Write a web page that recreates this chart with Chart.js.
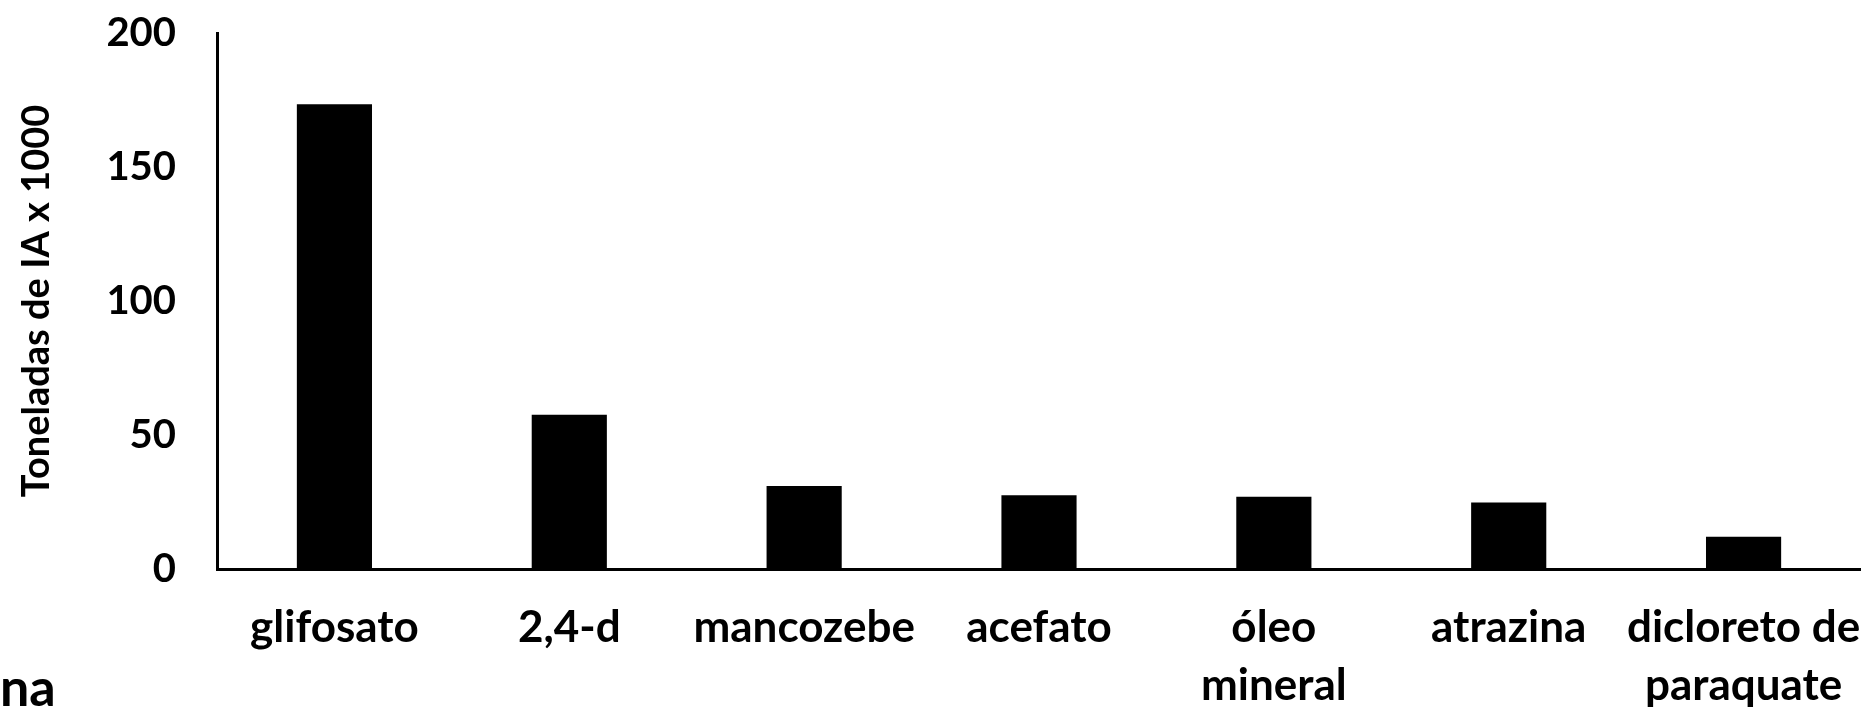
<!DOCTYPE html>
<html lang="pt">
<head>
    <meta charset="UTF-8">
    <title>Toneladas de IA x 1000</title>
    <script src="https://cdn.jsdelivr.net/npm/chart.js"></script>
    <style>
        html, body { margin: 0; padding: 0; background: #fff; }
        #wrap { position: relative; width: 1861px; height: 708px; overflow: hidden; }
        #note { position: absolute; left: 0; top: 655px; font: bold 52px/1.2 Lato, sans-serif; color: #000; }
    </style>
</head>
<body>
    <div id="wrap">
        <canvas id="chart" width="1861" height="708"></canvas>
        <div id="note">na</div>
    </div>

    <script>
        // values
        const categories = ['glifosato', '2,4-d', 'mancozebe', 'acefato', ['óleo', 'mineral'], 'atrazina', ['dicloreto de', 'paraquate']];
        const tonnes = [173.4, 57.6, 31.0, 27.5, 27.0, 24.8, 12.0];
        const yTicks = [0, 50, 100, 150, 200];

        const font = { family: 'Lato, sans-serif', weight: 'bold', size: 40 };

        const ctx = document.getElementById('chart').getContext('2d');
        new Chart(ctx, {
            type: 'bar',
            data: {
                labels: categories,
                datasets: [{
                    data: tonnes,
                    backgroundColor: '#000',
                    borderWidth: 0,
                    categoryPercentage: 1,
                    barPercentage: 0.32
                }]
            },
            options: {
                responsive: false,
                animation: false,
                layout: { padding: { top: 33, right: 0, bottom: 0, left: 0 } },
                plugins: { legend: { display: false }, tooltip: { enabled: false } },
                scales: {
                    x: {
                        grid: { display: false, drawTicks: false },
                        border: { color: '#000', width: 3 },
                        ticks: { color: '#000', font: { ...font, size: 44, lineHeight: 1.32 }, padding: 30, maxRotation: 0, autoSkip: false },
                        afterFit: s => { s.height = 139; s.paddingLeft = 0; s.paddingRight = 0; }
                    },
                    y: {
                        min: 0,
                        max: 200,
                        grid: { display: false, drawTicks: false },
                        border: { color: '#000', width: 3 },
                        afterBuildTicks: s => { s.ticks = yTicks.map(v => ({ value: v })); },
                        ticks: { color: '#000', font: font, padding: 41 },
                        title: {
                            display: true,
                            text: 'Toneladas de IA x 1000',
                            color: '#000',
                            font: { ...font, size: 38 },
                            padding: { top: 14, bottom: 0 }
                        },
                        afterFit: s => { s.width = 217; s.paddingTop = 0; s.paddingBottom = 0; }
                    }
                }
            }
        });
    </script>
</body>
</html>
